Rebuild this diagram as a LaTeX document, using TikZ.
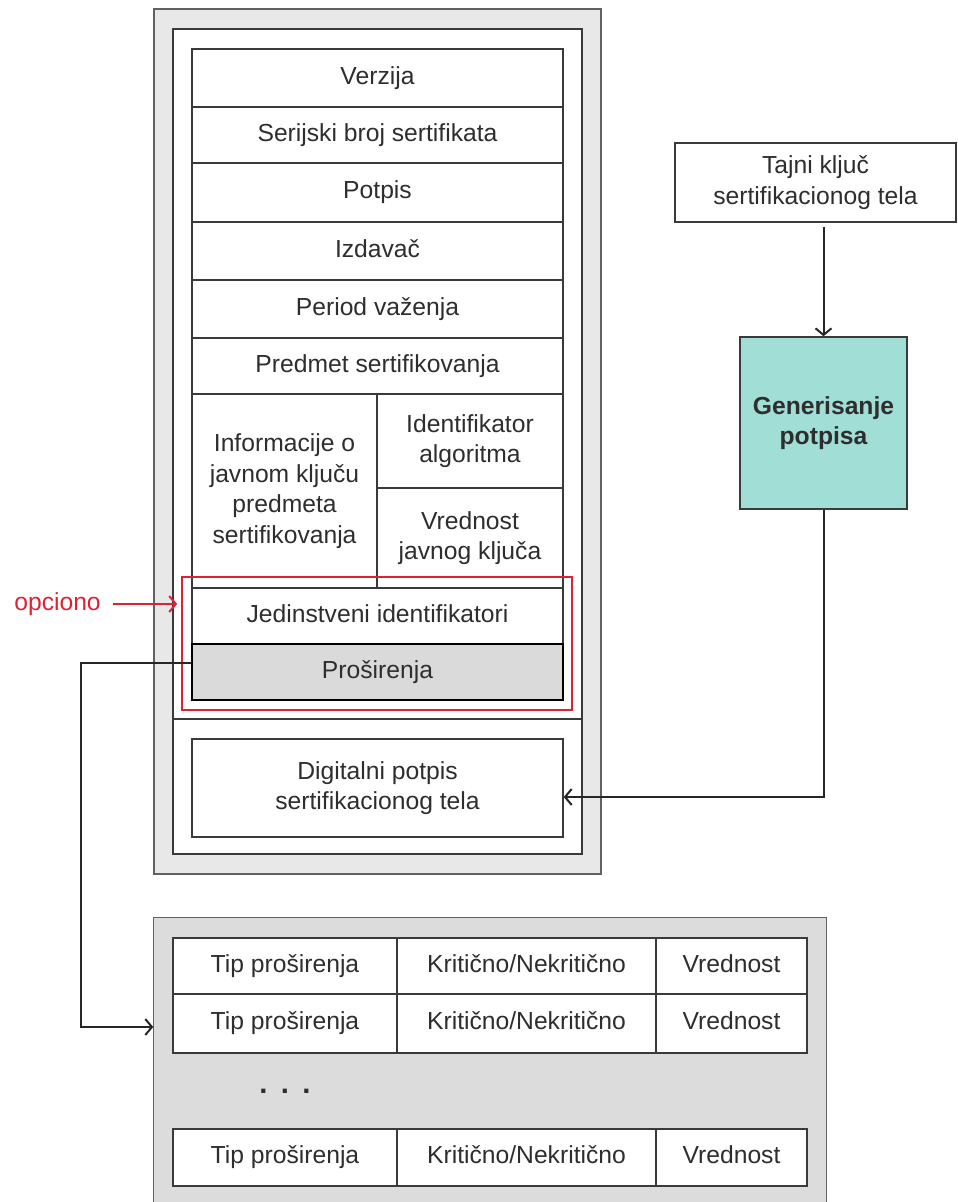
\documentclass[tikz,border=0pt]{standalone}
\usepackage{fontspec}
\setmainfont{Liberation Sans}
\usetikzlibrary{arrows.meta,calc}
\definecolor{txt}{HTML}{2E2E2E}
\definecolor{framefill}{HTML}{E8E8E8}
\definecolor{lowfill}{HTML}{DCDCDC}
\definecolor{extfill}{HTML}{DADADA}
\definecolor{genfill}{HTML}{A0DED6}
\definecolor{optred}{HTML}{DD2233}
\definecolor{edge}{HTML}{3A3A3A}
\newcommand\mkbox[7]{\node[#1,minimum width={(#5-#3)*0.75pt},minimum height={(#6-#4)*0.75pt}] (#2) at ({(#3+#5)/2},{(#4+#6)/2}) {#7};}
\tikzset{
  lbl/.style={text=txt, font=\fontsize{18.5}{23}\selectfont},
  cell/.style={lbl, draw=edge, line width=1.1pt, fill=white, inner sep=0pt, align=center},
  one/.style={text height=14pt, text depth=4.5pt},
  frame/.style={draw=edge!80, line width=1.1pt, fill=framefill, inner sep=0pt},
  inner/.style={draw=edge, line width=1.1pt, fill=white, inner sep=0pt},
  extcell/.style={cell, fill=extfill, draw=black, line width=1.5pt},
  optbox/.style={draw=optred, line width=1.2pt, inner sep=0pt},
  genbox/.style={cell, fill=genfill, draw=edge, font=\fontsize{18.5}{23}\selectfont\bfseries},
  conn/.style={draw=black!85, line width=1.5pt, -{Straight Barb[length=5pt,width=12pt,line width=1.5pt]}},
  optarrow/.style={draw=optred, line width=1.5pt, -{Straight Barb[length=5pt,width=12pt,line width=1.5pt]}},
}
\begin{document}
\begin{tikzpicture}[x=0.75pt,y=-0.75pt]
\useasboundingbox (0,0) rectangle (957,1202);
% certificate frame
\mkbox{frame}{outer}{154}{9}{601}{874}{}
\mkbox{inner}{innerw}{173}{29}{582}{854}{}
\draw[draw=edge, line width=1.1pt] (innerw.west |- 0,719) -- (innerw.east |- 0,719);
% fields
\mkbox{cell,one}{ver}{192}{49}{563}{107}{Verzija}
\mkbox{cell,one}{ser}{192}{107}{563}{163}{Serijski broj sertifikata}
\mkbox{cell,one}{pot}{192}{163}{563}{222}{Potpis}
\mkbox{cell,one}{izd}{192}{222}{563}{280}{Izdavač}
\mkbox{cell,one}{per}{192}{280}{563}{338}{Period važenja}
\mkbox{cell,one}{pred}{192}{338}{563}{394}{Predmet sertifikovanja}
\mkbox{cell}{info}{192}{394}{377}{588}{Informacije o\\javnom ključu\\predmeta\\sertifikovanja}
\mkbox{cell}{alg}{377}{394}{563}{488}{Identifikator\\algoritma}
\mkbox{cell}{vred}{377}{488}{563}{588}{Vrednost\\javnog ključa}
\mkbox{cell,one}{jed}{192}{588}{563}{644}{Jedinstveni identifikatori}
\mkbox{extcell,one}{pros}{192}{644}{563}{700}{Proširenja}
\mkbox{optbox}{opt}{182}{577}{572}{710}{}
\mkbox{cell}{dig}{192}{739}{563}{837}{Digitalni potpis\\sertifikacionog tela}
% right side
\mkbox{cell}{tajni}{675}{143}{956}{222}{Tajni ključ\\sertifikacionog tela}
\mkbox{genbox}{gen}{740}{337}{907}{509}{Generisanje\\potpisa}
% extensions
\mkbox{frame}{low}{154}{918}{826}{1206}{}
\path[fill=lowfill] (low.north west) rectangle (low.south east);
\draw[draw=edge!80, line width=1.1pt] (low.south west) -- (low.north west) -- (low.north east) -- (low.south east);
\mkbox{cell,one}{a1}{173}{938}{397}{994}{Tip proširenja}
\mkbox{cell,one}{b1}{397}{938}{656}{994}{Kritično/Nekritično}
\mkbox{cell,one}{c1}{656}{938}{807}{994}{Vrednost}
\mkbox{cell,one}{a2}{173}{994}{397}{1053}{Tip proširenja}
\mkbox{cell,one}{b2}{397}{994}{656}{1053}{Kritično/Nekritično}
\mkbox{cell,one}{c2}{656}{994}{807}{1053}{Vrednost}
\mkbox{cell,one}{a3}{173}{1129}{397}{1186}{Tip proširenja}
\mkbox{cell,one}{b3}{397}{1129}{656}{1186}{Kritično/Nekritično}
\mkbox{cell,one}{c3}{656}{1129}{807}{1186}{Vrednost}
\node[lbl, font=\fontsize{22}{24}\selectfont\bfseries, anchor=base, inner sep=0pt] (dots) at (285,1093) {.\hspace{10pt}.\hspace{10pt}.};
% connectors
\coordinate (elb) at (81,1027);
\draw[conn] ([yshift=6.75pt]pros.west) -| (elb) -- (low.west |- elb);
\draw[conn, shorten <=3pt] (gen.north |- tajni.south) -- (gen.north);
\draw[conn] (gen.south) |- ([yshift=-6.75pt]dig.east);
% optional label
\node[lbl, text=optred, anchor=east, inner sep=0pt] (opc) at (101,604) {opciono};
\draw[optarrow, shorten >=3pt] ([xshift=9pt]opc.east) -- (opt.west |- opc.east);
\end{tikzpicture}
\end{document}
